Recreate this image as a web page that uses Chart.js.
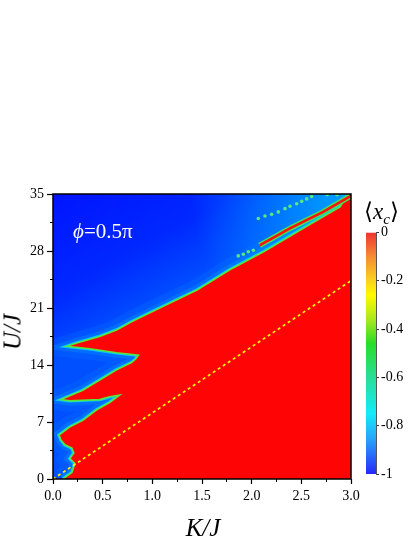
<!DOCTYPE html>
<html>
<head>
<meta charset="utf-8">
<script src="https://cdn.jsdelivr.net/npm/chart.js@4.4.1/dist/chart.umd.min.js"></script>
<style>
  html, body { margin: 0; padding: 0; background: #fff; }
  body { width: 415px; height: 537px; position: relative; overflow: hidden;
         font-family: "Liberation Serif", "Times New Roman", serif; }
  canvas { position: absolute; }
  #main { left: 0; top: 0; }
  #bar { left: 355px; top: 222px; }
  .lbl { position: absolute; white-space: nowrap; line-height: 1; color: #000; }
  #ylab { left: 12px; top: 332px; font-size: 25px; font-style: italic; transform: translate(-50%, -50%) rotate(-90deg); }
  #xlab { left: 203px; top: 527px; font-size: 25px; font-style: italic; transform: translate(-50%, -50%); }
  #phi { left: 73px; top: 221px; font-size: 21px; color: #fff; }
  #phi i { font-style: italic; }
  #cbt { left: 364px; top: 200px; font-size: 23px; }
  #cbt sub { font-size: 15px; font-style: italic; vertical-align: -5px; }
</style>
</head>
<body>
<canvas id="main" width="415" height="537"></canvas>
<canvas id="bar" width="60" height="265"></canvas>
<div class="lbl" id="ylab">U/J</div>
<div class="lbl" id="xlab">K/J</div>
<div class="lbl" id="phi"><i>ϕ</i>=0.5π</div>
<div class="lbl" id="cbt">⟨<i>x</i><sub>c</sub>⟩</div>
<script>
// edge of the <x_c> = 0 (red) phase, bottom-left to top-right
var edgeK = [0.10, 0.19, 0.22, 0.17, 0.21, 0.19, 0.12, 0.08, 0.06, 0.17, 0.30, 0.44, 0.57, 0.67,
             0.57, 0.47, 0.17, 0.08, 0.30, 0.64, 0.79, 0.83, 0.86, 0.64, 0.37, 0.14, 0.24, 0.47,
             0.64, 0.79, 1.11, 1.45, 1.78, 2.12, 2.55, 2.89, 2.97];
var edgeU = [0.0, 0.8, 1.9, 2.5, 3.2, 3.8, 4.2, 4.8, 5.4, 6.4, 7.2, 8.5, 9.4, 10.3,
             10.1, 9.75, 9.6, 9.75, 10.9, 13.4, 14.3, 14.7, 15.2, 15.5, 16.0, 16.3, 16.7, 17.5,
             18.3, 19.3, 21.2, 23.2, 25.7, 27.9, 31.0, 33.4, 35.0];
// corners closing the red region
var cornerK = [3.0, 3.0];
var cornerU = [35.0, 0.0];

// thin re-entrant red strip above the main edge
var stripK = [2.08, 2.39, 2.72, 2.99];
var stripU = [28.7, 30.8, 32.8, 34.7];

// isolated points in the blue phase
var dotK = [1.865, 1.916, 1.966, 2.017, 2.067, 2.134, 2.201, 2.268, 2.336, 2.386, 2.453, 2.504, 2.554, 2.604, 2.76, 2.86];
var dotU = [27.4, 27.6, 27.9, 28.1, 32.0, 32.3, 32.5, 32.8, 33.2, 33.5, 33.8, 34.1, 34.4, 34.7, 34.9, 34.9];

// dashed guide line
var lineK = [0, 3.0];
var lineU = [0, 24.35];

var kTicks = [0, 0.5, 1.0, 1.5, 2.0, 2.5, 3.0];
var kMinor = [0, 0.25, 0.5, 0.75, 1.0, 1.25, 1.5, 1.75, 2.0, 2.25, 2.5, 2.75, 3.0];
var uTicks = [0, 7, 14, 21, 28, 35];
var uMinor = [0, 3.5, 7, 10.5, 14, 17.5, 21, 24.5, 28, 31.5, 35];
var barTicks = [0, -0.2, -0.4, -0.6, -0.8, -1];

function pts(xs, ys) {
  return xs.map(function (x, i) { return { x: x, y: ys[i] }; });
}

var serif = { family: "'Liberation Serif', 'Times New Roman', serif", size: 14 };

function lineSet(data, color, width, order, extra) {
  var ds = {
    data: data, borderColor: color, borderWidth: width, pointRadius: 0,
    tension: 0, fill: false, order: order, clip: 0, xAxisID: 'x', yAxisID: 'y'
  };
  return Object.assign(ds, extra || {});
}

var edge = pts(edgeK, edgeU);
var region = pts(edgeK.concat(cornerK), edgeU.concat(cornerU));

// blue phase background, lighter towards the transition
var background = {
  id: 'background',
  beforeDatasetsDraw: function (chart) {
    var ctx = chart.ctx, a = chart.chartArea;
    ctx.save();
    var g = ctx.createLinearGradient(a.left, a.top, a.left + 74, a.top + 130);
    g.addColorStop(0, 'rgb(0,20,255)');
    g.addColorStop(0.6, 'rgb(0,40,255)');
    g.addColorStop(1, 'rgb(0,80,255)');
    ctx.fillStyle = g;
    ctx.fillRect(a.left, a.top, a.width, a.height);
    var r = ctx.createRadialGradient(a.right, a.top, 0, a.right, a.top, 160);
    r.addColorStop(0, 'rgba(0,175,255,0.9)');
    r.addColorStop(1, 'rgba(0,175,255,0)');
    ctx.fillStyle = r;
    ctx.fillRect(a.left, a.top, a.width, a.height);
    ctx.restore();
  },
  afterDatasetsDraw: function (chart) {
    var ctx = chart.ctx, a = chart.chartArea;
    ctx.save();
    ctx.strokeStyle = '#000';
    ctx.lineWidth = 1.5;
    ctx.strokeRect(a.left, a.top, a.width, a.height);
    ctx.restore();
  }
};

function fixTicks(list) {
  return function (s) { s.ticks = list.map(function (v) { return { value: v }; }); };
}

new Chart(document.getElementById('main'), {
  type: 'line',
  data: {
    datasets: [
      lineSet(edge, 'rgba(0,140,255,0.18)', 22, 8),
      lineSet(edge, 'rgba(0,170,255,0.25)', 10, 7),
      lineSet(edge, 'rgba(0,225,255,0.8)', 3.5, 6),
      lineSet(region, 'rgba(0,0,0,0)', 0, 5, { fill: 'shape', backgroundColor: 'rgb(255,4,4)' }),
      lineSet(edge, 'rgb(90,228,60)', 1.6, 4),
      lineSet(pts(stripK, stripU), 'rgb(70,225,90)', 5.5, 3),
      lineSet(pts(stripK, stripU), 'rgb(250,20,10)', 2.6, 2),
      lineSet(pts(dotK, dotU), 'rgba(0,0,0,0)', 0, 1, {
        showLine: false, pointRadius: 1.8, pointBorderWidth: 0,
        pointBackgroundColor: 'rgb(90,230,130)'
      }),
      lineSet(pts(lineK, lineU), 'rgb(255,245,0)', 1.7, 0, { borderDash: [3, 3] })
    ]
  },
  options: {
    responsive: false,
    animation: false,
    events: [],
    layout: { padding: { left: 0, top: 194, right: 64, bottom: 0 } },
    plugins: { legend: { display: false }, tooltip: { enabled: false } },
    scales: {
      x: {
        type: 'linear', min: 0, max: 3, position: 'bottom', weight: 1,
        afterBuildTicks: fixTicks(kTicks),
        afterFit: function (s) { s.height = 58; },
        ticks: { autoSkip: false, maxRotation: 0, padding: 4, color: '#000', font: serif,
                 callback: function (v) { return v.toFixed(1); } },
        grid: { drawOnChartArea: false, tickLength: 5, color: '#000', tickWidth: 1.2 },
        border: { display: false }
      },
      xMinor: {
        type: 'linear', min: 0, max: 3, position: 'bottom', weight: 0,
        afterBuildTicks: fixTicks(kMinor),
        afterFit: function (s) { s.height = 0; },
        ticks: { display: false },
        grid: { drawOnChartArea: false, tickLength: 3, color: '#000', tickWidth: 1 },
        border: { display: false }
      },
      y: {
        type: 'linear', min: 0, max: 35, position: 'left', weight: 1,
        afterBuildTicks: fixTicks(uTicks),
        afterFit: function (s) { s.width = 53; },
        ticks: { autoSkip: false, padding: 3, color: '#000', font: serif },
        grid: { drawOnChartArea: false, tickLength: 6, color: '#000', tickWidth: 1.2 },
        border: { display: false }
      },
      yMinor: {
        type: 'linear', min: 0, max: 35, position: 'left', weight: 0,
        afterBuildTicks: fixTicks(uMinor),
        afterFit: function (s) { s.width = 0; },
        ticks: { display: false },
        grid: { drawOnChartArea: false, tickLength: 3, color: '#000', tickWidth: 1 },
        border: { display: false }
      }
    }
  },
  plugins: [background]
});

// colour bar
function barFill(c) {
  var chart = c.chart, a = chart.chartArea;
  if (!a) return 'red';
  var g = chart.ctx.createLinearGradient(0, a.top, 0, a.bottom);
  g.addColorStop(0.00, 'rgb(240,50,50)');
  g.addColorStop(0.10, 'rgb(245,140,50)');
  g.addColorStop(0.20, 'rgb(250,210,30)');
  g.addColorStop(0.26, 'rgb(255,250,0)');
  g.addColorStop(0.36, 'rgb(170,232,30)');
  g.addColorStop(0.46, 'rgb(40,222,40)');
  g.addColorStop(0.60, 'rgb(40,222,150)');
  g.addColorStop(0.75, 'rgb(20,235,250)');
  g.addColorStop(0.86, 'rgb(40,160,250)');
  g.addColorStop(1.00, 'rgb(40,40,250)');
  return g;
}

new Chart(document.getElementById('bar'), {
  type: 'bar',
  data: {
    labels: [''],
    datasets: [{ data: [[-1, 0]], backgroundColor: barFill, borderWidth: 0,
                 barPercentage: 1, categoryPercentage: 1 }]
  },
  options: {
    responsive: false,
    animation: false,
    events: [],
    layout: { padding: { left: 11, top: 10, bottom: 13, right: 0 } },
    plugins: { legend: { display: false }, tooltip: { enabled: false } },
    scales: {
      x: { display: false },
      y: {
        position: 'right', min: -1, max: 0,
        afterBuildTicks: fixTicks(barTicks),
        afterFit: function (s) { s.width = 39; },
        ticks: { padding: 2, color: '#000', font: serif,
                 callback: function (v) { return v === 0 ? '0' : (v === -1 ? '-1' : v.toFixed(1)); } },
        grid: { drawOnChartArea: false, tickLength: 3, color: '#333' },
        border: { display: true, color: '#555', width: 1 }
      }
    }
  }
});
</script>
</body>
</html>
